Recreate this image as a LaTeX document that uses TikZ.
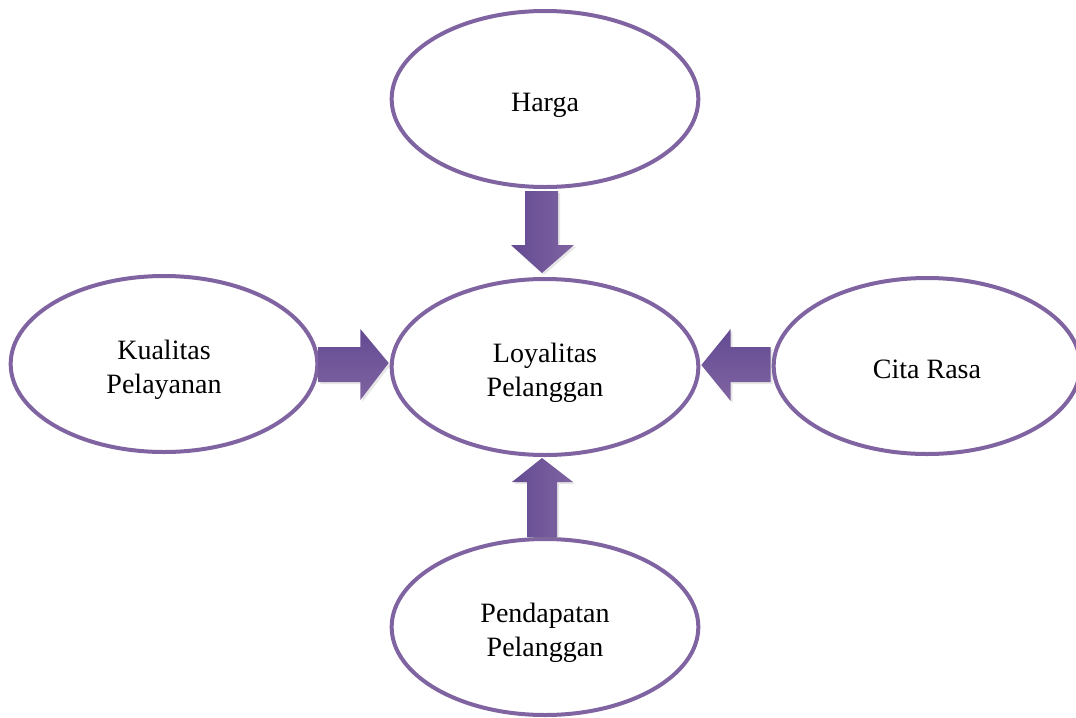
\documentclass[tikz,border=0pt]{standalone}
\usepackage{fontspec}
\setmainfont{Liberation Serif}
\usetikzlibrary{shapes.geometric,calc,shadows}
\definecolor{ringc}{HTML}{8064A2}
\definecolor{arrdark}{HTML}{634A92}
\definecolor{arrlight}{HTML}{8064A2}
\newcommand{\ovaltext}[1]{\raisebox{-4pt}[\height][\depth]{\begin{tabular}{@{}c@{}}#1\end{tabular}}}
\tikzset{
  oval/.style={ellipse, draw=ringc, line width=3pt, fill=white,
    minimum width=230pt, minimum height=132pt, inner sep=0pt,
    align=center, font=\fontsize{21}{25.5}\selectfont},
  varrow/.style={left color=arrdark, right color=arrlight, draw=none,
    drop shadow={opacity=0.2, shadow xshift=1.5pt, shadow yshift=-1.5pt}},
  harrow/.style={top color=arrdark, bottom color=arrlight, draw=none,
    drop shadow={opacity=0.2, shadow xshift=1.5pt, shadow yshift=-1.5pt}}
}
\begin{document}
\begin{tikzpicture}[x=0.75pt,y=-0.75pt]
\useasboundingbox (0,0) rectangle (1076,718);
\clip (0,0) rectangle (1076,718);
\node[oval] (harga) at (545,99) {\ovaltext{Harga}};
\node[oval] (loy) at (545,367) {\ovaltext{Loyalitas\\Pelanggan}};
\node[oval] (kual) at (164,364) {\ovaltext{Kualitas\\Pelayanan}};
\node[oval] (cita) at (927,366) {\ovaltext{Cita Rasa}};
\node[oval] (pend) at (545,627) {\ovaltext{Pendapatan\\Pelanggan}};
% down arrow: Harga -> Loyalitas
\path[varrow] ($(harga.south)+(-20,2)$) -- ($(harga.south)+(13,2)$) -- ($(harga.south)+(13,56)$)
  -- ($(harga.south)+(29,56)$) -- ($(loy.north)+(-3,-4)$) -- ($(harga.south)+(-34,56)$)
  -- ($(harga.south)+(-20,56)$) -- cycle;
% up arrow: Pendapatan -> Loyalitas
\path[varrow] ($(pend.north)+(-18,0)$) -- ($(pend.north)+(12,0)$) -- ($(pend.north)+(12,-55)$)
  -- ($(pend.north)+(28,-55)$) -- ($(loy.south)+(-3,1)$) -- ($(pend.north)+(-33,-55)$)
  -- ($(pend.north)+(-18,-55)$) -- cycle;
% right arrow: Kualitas -> Loyalitas
\path[harrow] ($(kual.east)+(-1,-17)$) -- ($(kual.east)+(41,-17)$) -- ($(kual.east)+(41,-35)$)
  -- ($(loy.west)+(-1,-4)$) -- ($(kual.east)+(41,36)$) -- ($(kual.east)+(41,18)$)
  -- ($(kual.east)+(-1,18)$) -- cycle;
% left arrow: Cita Rasa -> Loyalitas
\path[harrow] ($(cita.west)+(-1,-19)$) -- ($(cita.west)+(-41,-19)$) -- ($(cita.west)+(-41,-37)$)
  -- ($(loy.east)+(1,-2)$) -- ($(cita.west)+(-41,35)$) -- ($(cita.west)+(-41,16)$)
  -- ($(cita.west)+(-1,16)$) -- cycle;
\end{tikzpicture}
\end{document}
